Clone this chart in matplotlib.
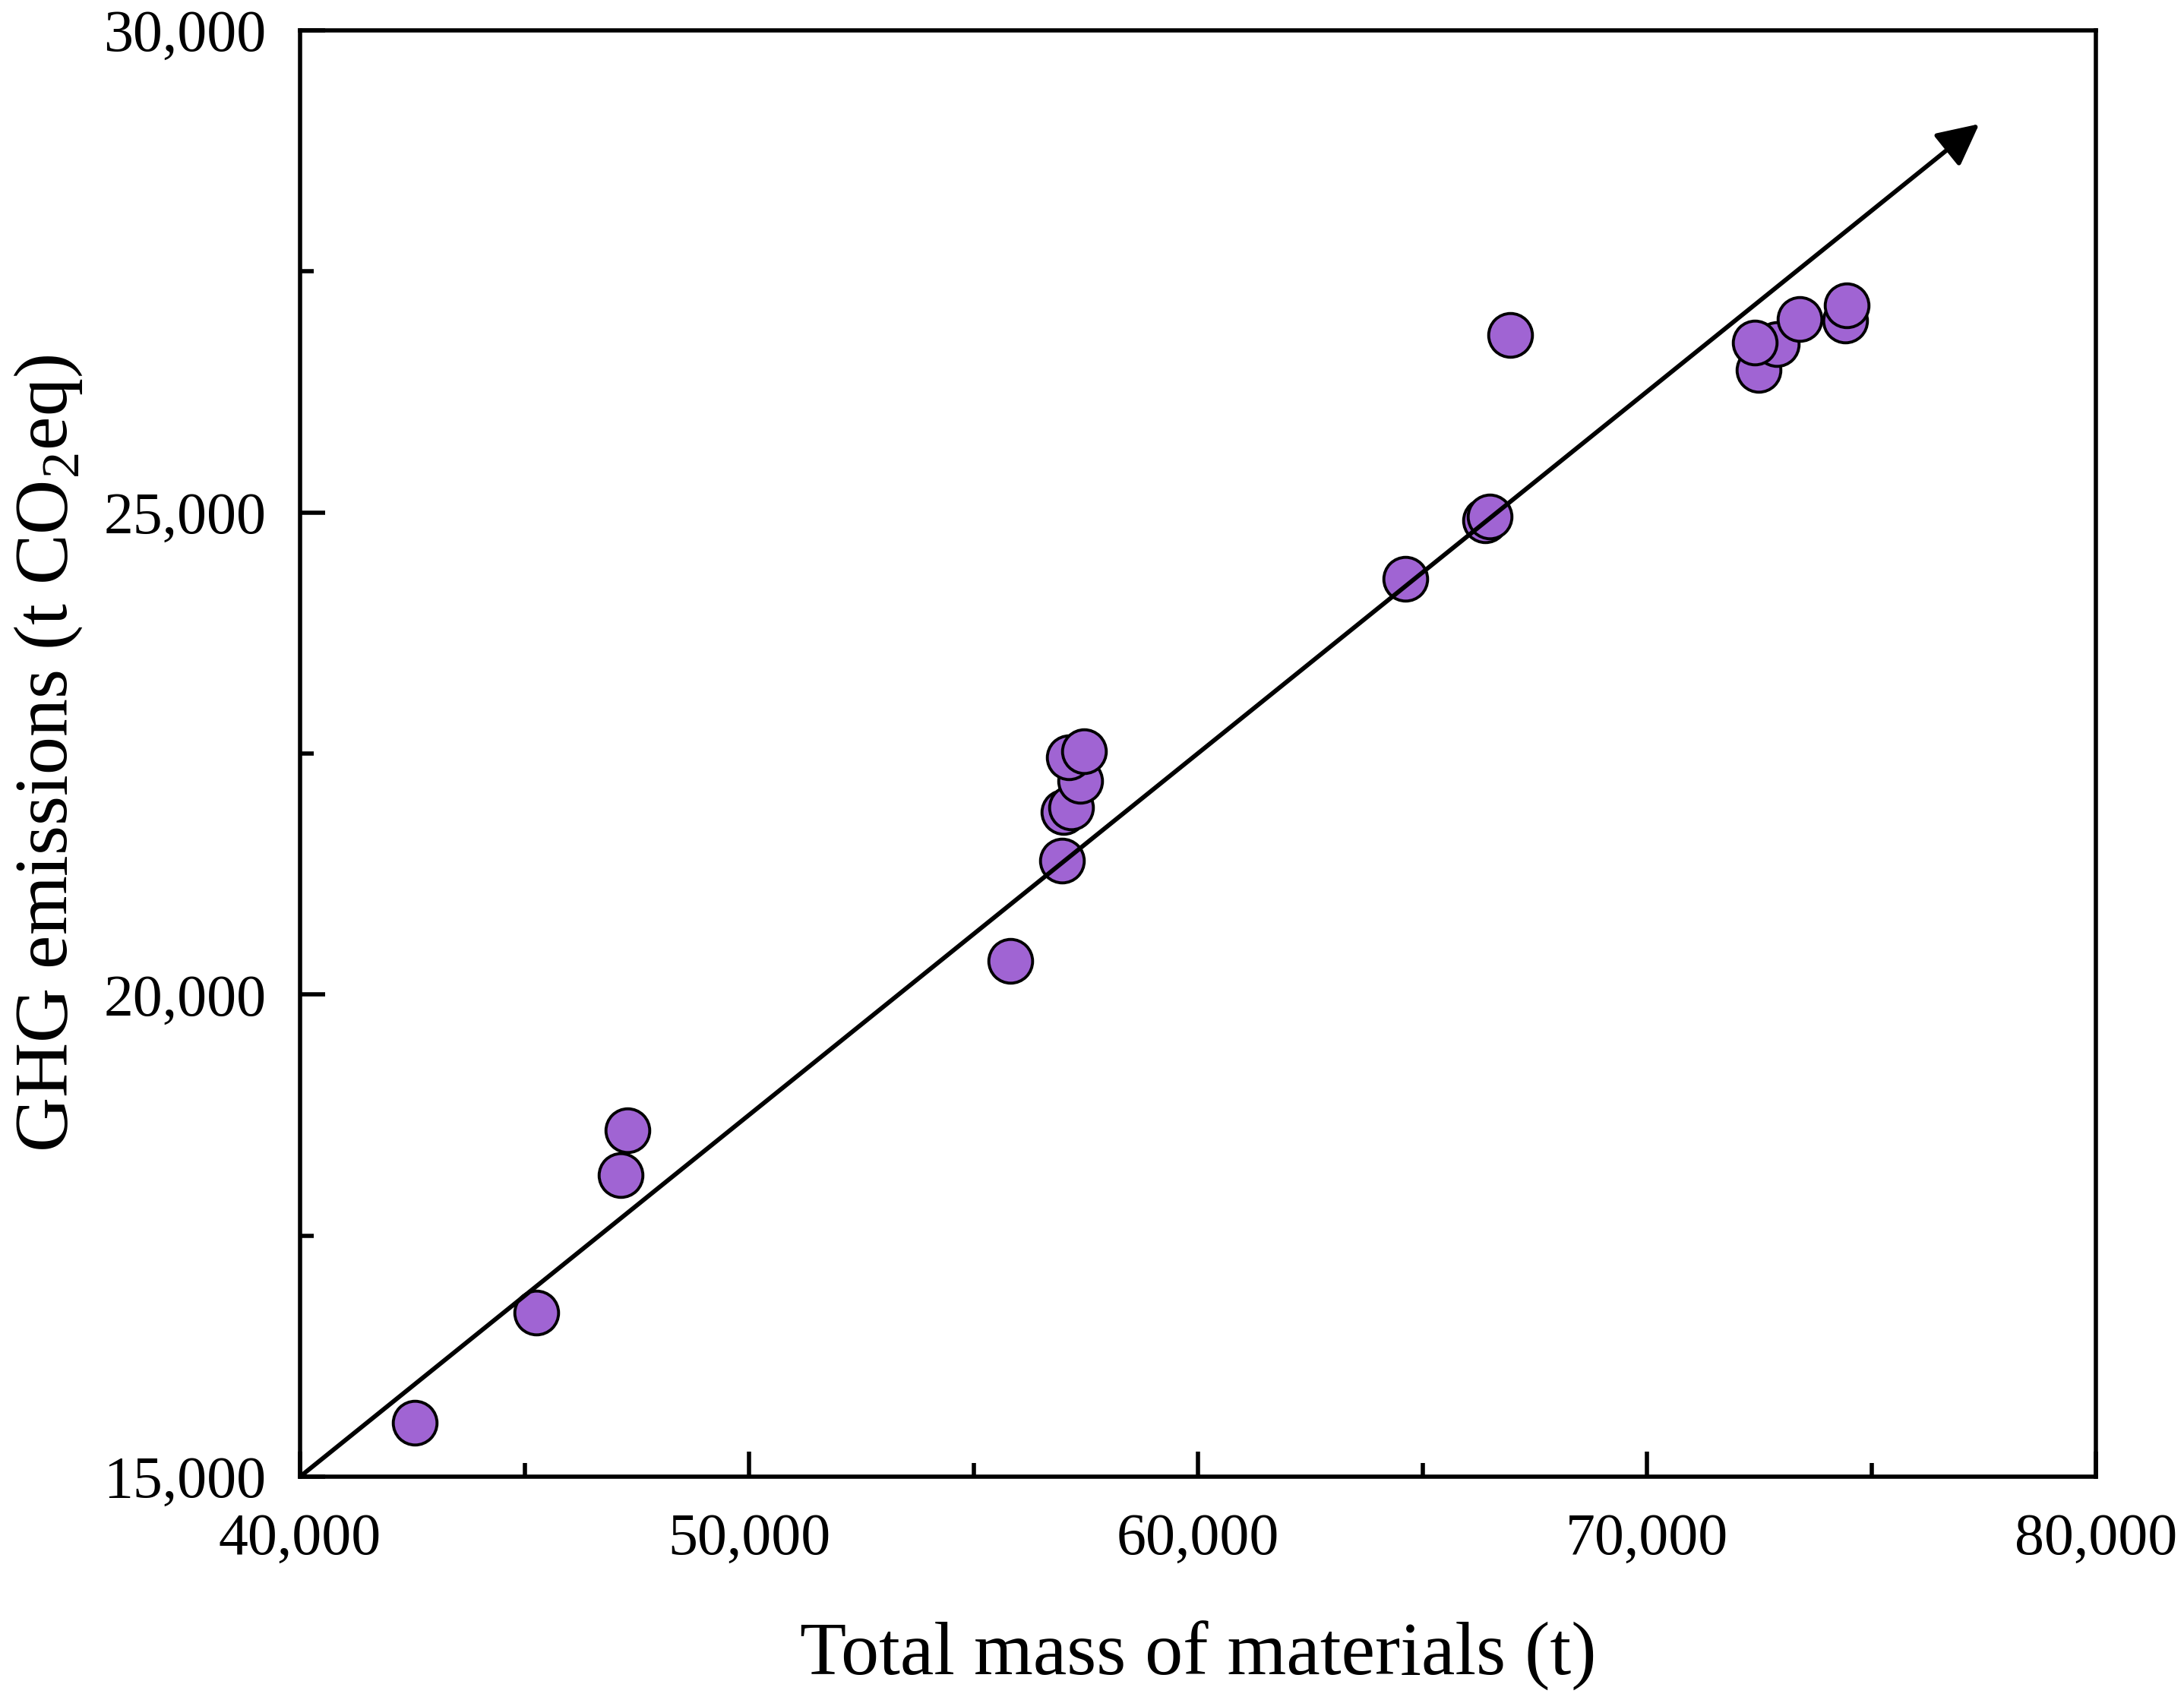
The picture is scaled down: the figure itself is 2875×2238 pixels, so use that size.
import matplotlib
matplotlib.use('Agg')
import matplotlib.pyplot as plt
from matplotlib.ticker import MultipleLocator, StrMethodFormatter

# total mass of materials (t) and GHG emissions (t CO2eq)
mass = [42560, 45270, 47140, 47300, 55820, 56970, 57000, 57170, 57370, 57120,
        57460, 64610, 66400, 66500, 66950, 72480, 72890, 72400, 73400, 74420,
        74450]
ghg = [15560, 16700, 18130, 18590, 20350, 21390, 21890, 21940, 22220, 22460,
       22520, 24310, 24920, 24960, 26840, 26480, 26750, 26760, 27010, 26990,
       27150]

# trend arrow (start, end) in data units
trend_x = [40000, 77400]
trend_y = [15000, 29030]

plt.rcParams['font.family'] = ['Liberation Serif', 'DejaVu Serif']
plt.rcParams['mathtext.fontset'] = 'custom'
plt.rcParams['mathtext.rm'] = 'Liberation Serif'

fig = plt.figure(figsize=(2875 / 200, 2238 / 200), dpi=200)
ax = fig.add_axes([0.1374, 0.1314, 0.8223, 0.8507])

ax.scatter(mass, ghg, s=430, c='#A064D3', edgecolors='black', linewidths=1.4, zorder=2)

ax.annotate('', xy=(trend_x[1], trend_y[1]), xytext=(trend_x[0], trend_y[0]),
            arrowprops=dict(arrowstyle='-|>', color='black', lw=2.1,
                            mutation_scale=42, shrinkA=0, shrinkB=0),
            zorder=3)

ax.set_xlim(40000, 80000)
ax.set_ylim(15000, 30000)
ax.xaxis.set_major_locator(MultipleLocator(10000))
ax.xaxis.set_minor_locator(MultipleLocator(5000))
ax.yaxis.set_major_locator(MultipleLocator(5000))
ax.yaxis.set_minor_locator(MultipleLocator(2500))
ax.xaxis.set_major_formatter(StrMethodFormatter('{x:,.0f}'))
ax.yaxis.set_major_formatter(StrMethodFormatter('{x:,.0f}'))

ax.tick_params(which='both', direction='in', top=False, right=False, width=2.0)
ax.tick_params(which='major', length=12, labelsize=28)
ax.tick_params(axis='y', which='major', pad=16)
ax.tick_params(axis='x', which='major', pad=17)
ax.tick_params(which='minor', length=6.5)
for sp in ax.spines.values():
    sp.set_linewidth(2.0)

ax.set_xlabel('Total mass of materials (t)', fontsize=36, va='baseline')
ax.set_ylabel('GHG emissions (t CO$_\\mathrm{2}$eq)', fontsize=36, va='center')
ax.xaxis.set_label_coords(0.5, -0.137)
ax.yaxis.set_label_coords(-0.140, 0.5)

fig.savefig('out.png', dpi=200)
